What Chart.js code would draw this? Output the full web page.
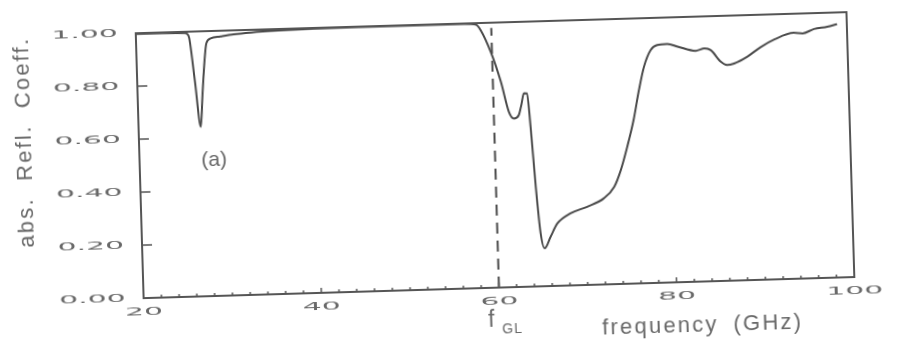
<!DOCTYPE html>
<html><head><meta charset="utf-8">
<script src="https://cdn.jsdelivr.net/npm/chart.js@4"></script>
<style>
html,body{margin:0;padding:0;background:#fff;overflow:hidden;width:899px;height:343px;}
#wrap{position:absolute;left:-30px;top:-30px;width:959px;height:403px;transform:rotate(-1.7deg);transform-origin:50% 50%;}
canvas{display:block;}
</style></head><body>
<div id="wrap"><canvas id="c" width="959" height="403"></canvas></div>
<script>
// ---- data ----
const frequencyGHz = [20, 23, 25.5, 25.8, 26.0, 26.5, 27.0, 27.3, 27.65, 27.9,
  28.4, 29.5, 31, 33, 36, 40, 45, 50, 55, 57,
  58.3, 58.8, 59.86, 60.9, 61.7, 62.25, 62.8, 63.15, 63.45, 63.8,
  64.1, 64.47, 64.87, 65.28, 65.98, 66.78, 68.3, 70.2, 72.1, 73.3,
  74.1, 74.9, 75.7, 76.4, 77.05, 77.86, 78.6, 79.75, 80.9, 82.9,
  83.9, 84.6, 85.7, 86.4, 87.2, 88.7, 90.2, 91.8, 94.0, 95.0,
  96.3, 97.8, 98.9];
const reflCoeff = [0.997, 0.997, 0.995, 0.991, 0.975, 0.81, 0.64, 0.76, 0.891, 0.954,
  0.972, 0.978, 0.985, 0.99, 0.994, 0.997, 0.998, 0.998, 0.998, 0.998,
  0.994, 0.973, 0.89, 0.776, 0.662, 0.636, 0.648, 0.69, 0.73, 0.729,
  0.6, 0.38, 0.2, 0.143, 0.186, 0.235, 0.272, 0.295, 0.325, 0.367,
  0.43, 0.517, 0.617, 0.729, 0.817, 0.879, 0.897, 0.9, 0.889, 0.871,
  0.879, 0.872, 0.827, 0.814, 0.819, 0.843, 0.877, 0.905, 0.928, 0.925,
  0.94, 0.947, 0.956];
const markerFreq = [60, 60];
const markerRefl = [0, 0.98];
const xTickValues = [20, 40, 60, 80, 100];
const xTickLabels = ['20', '40', '60', '80', '100'];
const yTickValues = [0, 0.2, 0.4, 0.6, 0.8, 1.0];
const yTickLabels = ['0.00', '0.20', '0.40', '0.60', '0.80', '1.00'];
const yTitle = 'abs. Refl. Coeff.';
const xTitle = 'frequency (GHz)';
const markerLabel = 'f';
const markerSub = 'GL';
const panelLabel = '(a)';
const panelLabelPos = [28.4, 0.513];

const INK = '#4a4a4a';
const TXT = '#686868';

// letter-spaced text stretched to a target width by widening word gaps
function spacedText(ctx, text, x, y, ls, targetW, align) {
  ctx.letterSpacing = ls + 'px';
  ctx.wordSpacing = '0px';
  const w = ctx.measureText(text).width;
  const nSp = (text.match(/ /g) || []).length;
  if (nSp > 0 && targetW) {
    ctx.wordSpacing = Math.max(0, (targetW - w) / nSp).toFixed(2) + 'px';
  }
  const tw = targetW || w;
  ctx.textAlign = 'left';
  const sx = align === 'center' ? x - tw / 2 : x;
  ctx.fillText(text, sx, y);
  ctx.letterSpacing = '0px';
  ctx.wordSpacing = '0px';
}
function stretchText(ctx, text, x, y, align) {
  ctx.save();
  ctx.translate(x, y);
  ctx.scale(2.3, 0.75);
  ctx.font = '13px "DejaVu Sans"';
  ctx.textAlign = align;
  ctx.textBaseline = 'middle';
  ctx.fillStyle = TXT;
  ctx.fillText(text, 0, 0);
  ctx.restore();
}

const framePlugin = {
  id: 'frame',
  afterDraw(chart) {
    const ctx = chart.ctx, a = chart.chartArea;
    const xs = chart.scales.x, ys = chart.scales.y;
    ctx.save();
    ctx.strokeStyle = '#555';
    ctx.lineWidth = 2;
    ctx.strokeRect(a.left, a.top, a.right - a.left, a.bottom - a.top);
    ctx.lineWidth = 1.5;
    ctx.beginPath();
    ys.ticks.forEach(t => {
      const py = ys.getPixelForValue(t.value);
      ctx.moveTo(a.left, py); ctx.lineTo(a.left + 10, py);
    });
    xs.ticks.forEach(t => {
      const px = xs.getPixelForValue(t.value);
      const len = (Math.round(t.value) % 20 === 0) ? 5 : 3;
      ctx.moveTo(px, a.bottom); ctx.lineTo(px, a.bottom - len);
    });
    ctx.stroke();

    // tick labels
    yTickValues.forEach((v, i) => stretchText(ctx, yTickLabels[i], a.left - 18, ys.getPixelForValue(v), 'right'));
    xTickValues.forEach((v, i) => stretchText(ctx, xTickLabels[i], xs.getPixelForValue(v), a.bottom + 14, 'center'));

    // axis titles
    ctx.fillStyle = TXT;
    ctx.font = '22px "Liberation Sans"';
    ctx.textBaseline = 'middle';
    ctx.save();
    ctx.translate(a.left - 113.6, a.top + 105.6);
    ctx.rotate(-Math.PI / 2);
    spacedText(ctx, yTitle, 0, 0, 2.2, 211, 'center');
    ctx.restore();

    ctx.font = '22px "Liberation Sans"';
    ctx.textBaseline = 'alphabetic';
    spacedText(ctx, xTitle, a.left + 558, a.bottom + 49.5, 2.2, 201, 'center');

    // marker label f_GL
    const p60 = xs.getPixelForValue(markerFreq[0]);
    ctx.font = '23px "Liberation Sans"';
    ctx.textAlign = 'center';
    ctx.textBaseline = 'middle';
    ctx.fillText(markerLabel, p60 - 8.5, a.bottom + 32.3);
    ctx.font = '14px "Liberation Sans"';
    spacedText(ctx, markerSub, p60 + 2, a.bottom + 42, 1.2, 0, 'left');

    // panel label
    ctx.font = '21px "Liberation Sans"';
    ctx.textBaseline = 'middle';
    ctx.textAlign = 'center';
    ctx.fillText(panelLabel, xs.getPixelForValue(panelLabelPos[0]), ys.getPixelForValue(panelLabelPos[1]));
    ctx.restore();
  }
};

new Chart(document.getElementById('c'), {
  type: 'line',
  data: {
    datasets: [
      {
        data: frequencyGHz.map((f, i) => ({ x: f, y: reflCoeff[i] })),
        borderColor: INK,
        borderWidth: 2,
        pointRadius: 0,
        cubicInterpolationMode: 'monotone',
        fill: false
      },
      {
        data: markerFreq.map((f, i) => ({ x: f, y: markerRefl[i] })),
        borderColor: INK,
        borderWidth: 2,
        borderDash: [11, 7],
        pointRadius: 0,
        fill: false
      }
    ]
  },
  options: {
    responsive: false,
    devicePixelRatio: 1,
    animation: false,
    layout: { padding: { left: 0, right: 78, top: 54, bottom: 0 } },
    plugins: { legend: { display: false }, tooltip: { enabled: false } },
    scales: {
      x: {
        type: 'linear', min: 20, max: 100,
        ticks: { stepSize: 2, display: false },
        grid: { display: false },
        border: { display: false },
        afterFit: s => { s.height = 84; }
      },
      y: {
        min: 0, max: 1,
        ticks: { stepSize: 0.2, display: false },
        grid: { display: false },
        border: { display: false },
        afterFit: s => { s.width = 170; }
      }
    }
  },
  plugins: [framePlugin]
});
</script>
</body></html>
